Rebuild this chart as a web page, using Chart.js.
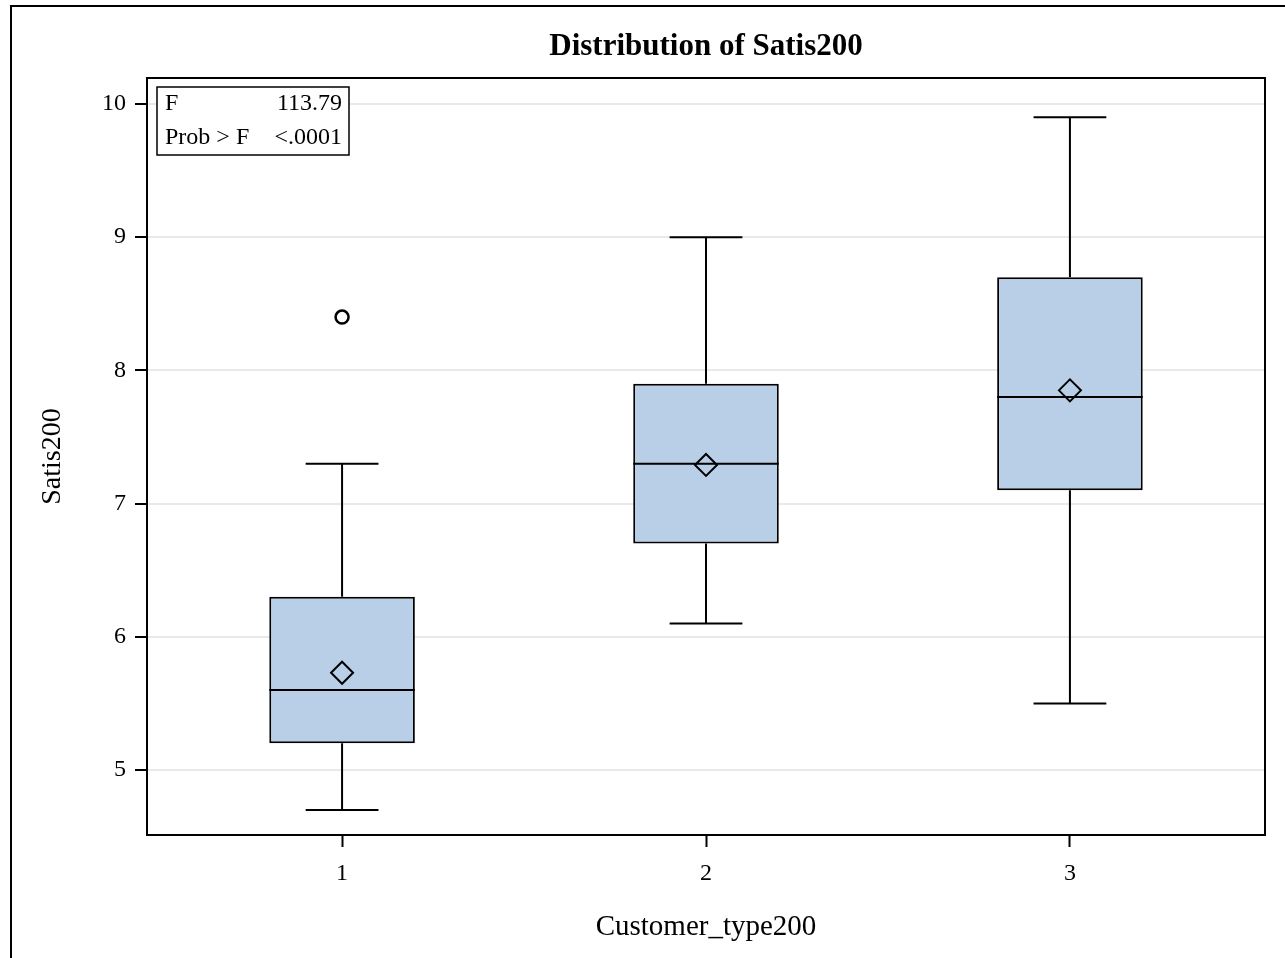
<html>
<head>
<script src="https://cdn.jsdelivr.net/npm/chart.js@4.4.0/dist/chart.umd.min.js"></script>
<style>
body { margin: 0; background: #ffffff; }
</style>
</head>
<body>
<canvas id="boxChart" width="1285" height="958"></canvas>
<script>

// values
var groups = [1, 2, 3];
var whiskerLow = [4.7, 6.1, 5.5];
var q1 = [5.2, 6.7, 7.1];
var median = [5.6, 7.3, 7.8];
var q3 = [6.3, 7.9, 8.7];
var whiskerHigh = [7.3, 9.0, 9.9];
var means = [5.73, 7.29, 7.85];
var outlierGroup = [1];
var outlierValue = [8.4];
var yTicks = [5, 6, 7, 8, 9, 10];
var xTicks = [1, 2, 3];
var statLabels = ["F", "Prob > F"];
var statValues = ["113.79", "<.0001"];
var titleText = 'Distribution of Satis200';

var serif = "'Liberation Serif', 'Times New Roman', serif";
var boxHalf = 0.2, capHalf = 0.1;

// build the segment lists from the arrays
var stems = [], caps = [], mids = [];
for (var i = 0; i < groups.length; i++) {
  var g = groups[i];
  stems.push({x: g, y: whiskerLow[i]}, {x: g, y: q1[i]}, {x: g, y: null});
  stems.push({x: g, y: q3[i]}, {x: g, y: whiskerHigh[i]}, {x: g, y: null});
  caps.push({x: g - capHalf, y: whiskerLow[i]}, {x: g + capHalf, y: whiskerLow[i]}, {x: g, y: null});
  caps.push({x: g - capHalf, y: whiskerHigh[i]}, {x: g + capHalf, y: whiskerHigh[i]}, {x: g, y: null});
  mids.push({x: g - boxHalf, y: median[i]}, {x: g + boxHalf, y: median[i]}, {x: g, y: null});
}

var frame = {
  id: 'frame',
  beforeDraw: function(chart) {
    var ctx = chart.ctx;
    ctx.save();
    ctx.fillStyle = '#ffffff';
    ctx.fillRect(0, 0, chart.width, chart.height);
    ctx.strokeStyle = '#000000';
    ctx.lineWidth = 2;
    ctx.beginPath();
    ctx.moveTo(11, chart.height);
    ctx.lineTo(11, 6);
    ctx.lineTo(chart.width, 6);
    ctx.stroke();
    ctx.restore();
  },
  afterDraw: function(chart) {
    var ctx = chart.ctx, a = chart.chartArea;
    ctx.save();
    ctx.strokeStyle = '#000000';
    ctx.lineWidth = 2;
    ctx.strokeRect(a.left, a.top, a.right - a.left, a.bottom - a.top);
    // title, centred over the plot area
    ctx.fillStyle = '#000000';
    ctx.font = "bold 31px " + serif;
    ctx.textAlign = 'center';
    ctx.textBaseline = 'middle';
    ctx.fillText(titleText, (a.left + a.right) / 2, 47);
    // stats inset
    var bx = a.left + 10, by = a.top + 9, bw = 192, bh = 68;
    ctx.fillStyle = '#ffffff';
    ctx.fillRect(bx, by, bw, bh);
    ctx.lineWidth = 1.5;
    ctx.strokeRect(bx, by, bw, bh);
    ctx.fillStyle = '#000000';
    ctx.font = "24px " + serif;
    for (var k = 0; k < statLabels.length; k++) {
      var ty = by + 17 + k * 34;
      ctx.textAlign = 'left';
      ctx.fillText(statLabels[k], bx + 8, ty);
      ctx.textAlign = 'right';
      ctx.fillText(statValues[k], bx + bw - 7, ty);
    }
    ctx.restore();
  }
};

var chart = new Chart(document.getElementById('boxChart'), {
  type: 'bar',
  data: {
    datasets: [{
      type: 'bar',
      order: 3,
      data: groups.map(function(g, i) { return {x: g, y: [q1[i], q3[i]]}; }),
      backgroundColor: '#b9cfe7',
      borderColor: '#000000',
      borderWidth: 2,
      borderSkipped: false,
      barPercentage: 0.4,
      categoryPercentage: 1
    }, {
      type: 'line', order: 2, data: stems,
      borderColor: '#000000', borderWidth: 2, pointRadius: 0, spanGaps: false, fill: false
    }, {
      type: 'line', order: 2, data: caps,
      borderColor: '#000000', borderWidth: 2, pointRadius: 0, spanGaps: false, fill: false
    }, {
      type: 'line', order: 2, data: mids,
      borderColor: '#000000', borderWidth: 2, pointRadius: 0, spanGaps: false, fill: false
    }, {
      type: 'line', order: 1, showLine: false,
      data: groups.map(function(g, i) { return {x: g, y: means[i]}; }),
      pointStyle: 'rectRot', pointRadius: 11, pointBorderWidth: 2,
      pointBorderColor: '#000000', pointBackgroundColor: 'rgba(0,0,0,0)'
    }, {
      type: 'line', order: 1, showLine: false,
      data: outlierGroup.map(function(g, i) { return {x: g, y: outlierValue[i]}; }),
      pointStyle: 'circle', pointRadius: 6.5, pointBorderWidth: 2.5,
      pointBorderColor: '#000000', pointBackgroundColor: '#ffffff'
    }]
  },
  options: {
    responsive: false,
    animation: false,
    layout: {padding: {left: 0, right: 20, top: 78, bottom: 0}},
    plugins: {
      legend: {display: false},
      tooltip: {enabled: false},
      title: {display: false}
    },
    scales: {
      x: {
        type: 'linear',
        min: 0.464,
        max: 3.536,
        offset: false,
        afterBuildTicks: function(s) { s.ticks = xTicks.map(function(v) { return {value: v}; }); },
        afterFit: function(s) { s.height = 123; },
        grid: {offset: false, drawOnChartArea: false, drawTicks: true, tickLength: 12, tickColor: '#000000', tickWidth: 2},
        border: {color: '#000000', width: 2},
        ticks: {color: '#000000', font: {family: serif, size: 24}, padding: 12, maxRotation: 0},
        title: {display: true, text: 'Customer_type200', color: '#000000', font: {family: serif, size: 29}, padding: {top: 0, bottom: 13}}
      },
      y: {
        min: 4.512,
        max: 10.195,
        afterBuildTicks: function(s) { s.ticks = yTicks.map(function(v) { return {value: v}; }); },
        afterFit: function(s) { s.width = 147; },
        grid: {color: '#e9e9e9', lineWidth: 2, drawTicks: true, tickLength: 12, tickColor: '#000000', tickWidth: 2},
        border: {color: '#000000', width: 2},
        ticks: {color: '#000000', font: {family: serif, size: 24}, padding: 9},
        title: {display: true, text: 'Satis200', color: '#000000', font: {family: serif, size: 28}, padding: {top: 36, bottom: 0}}
      }
    }
  },
  plugins: [frame]
});
</script>
</body>
</html>
